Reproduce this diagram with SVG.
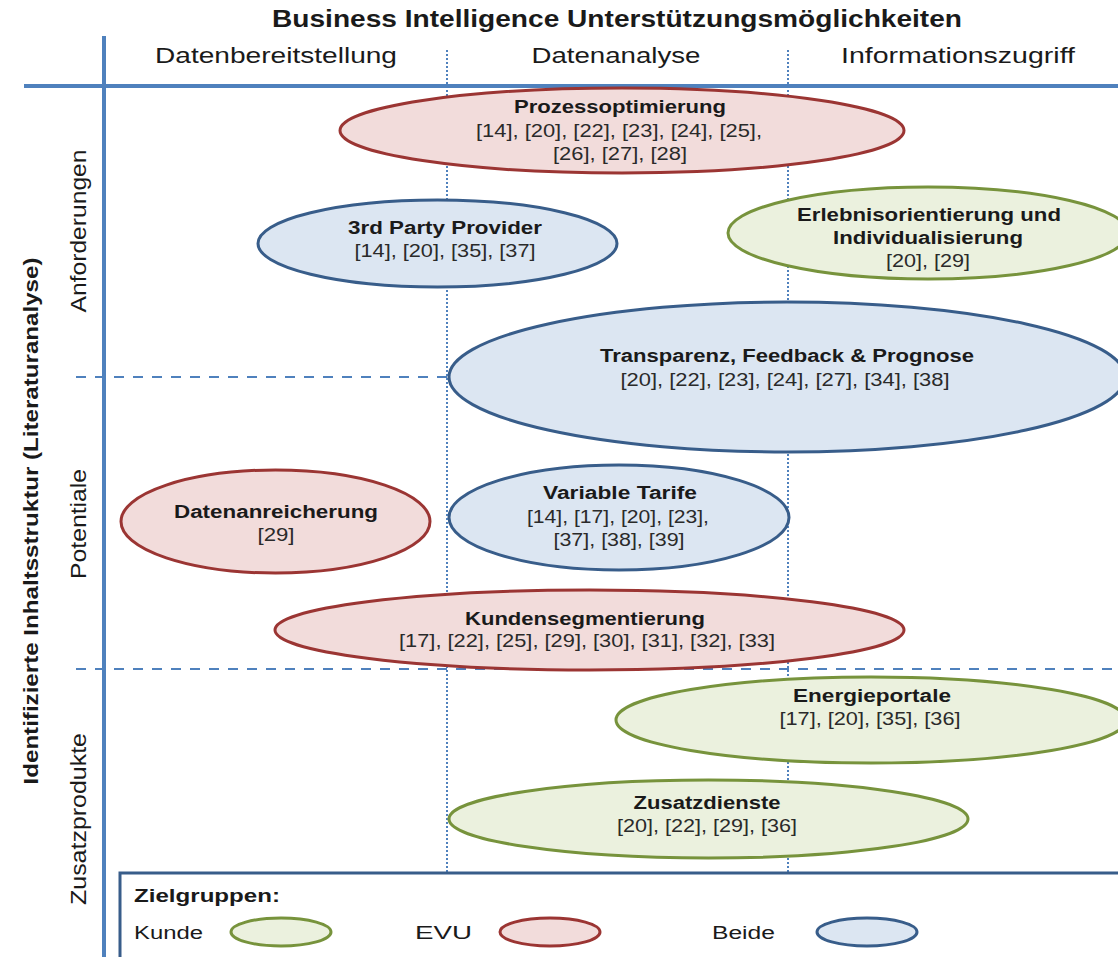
<svg xmlns="http://www.w3.org/2000/svg" width="1118" height="957" viewBox="0 0 1118 957">
<style>
text{font-family:"Liberation Sans",Arial,sans-serif;fill:#1a1a1a}
.t{font-size:18px;text-anchor:middle;font-weight:bold}
.r{font-size:18px;text-anchor:middle;fill:#2a2a2a}
.hd{font-size:22px;text-anchor:middle}
.axis{stroke:#4f81bd;stroke-width:4;fill:none}
.dot{stroke:#4f81bd;stroke-width:2;stroke-dasharray:2 2;fill:none}
.dash{stroke:#4f81bd;stroke-width:2;stroke-dasharray:10 9;fill:none}
.red{fill:#f2dcdb;stroke:#9b3533;stroke-width:3}
.blue{fill:#dce6f2;stroke:#385d8a;stroke-width:3}
.green{fill:#ebf1de;stroke:#77933c;stroke-width:3}
.lg{font-size:18px}
</style>
<rect width="1118" height="957" fill="#ffffff"/>
<g id="grid">
<line class="dot" x1="447" y1="50" x2="447" y2="872"/>
<line class="dot" x1="788" y1="50" x2="788" y2="872"/>
<line class="dash" x1="76" y1="377" x2="1118" y2="377"/>
<line class="dash" x1="76" y1="669" x2="1118" y2="669"/>
<line class="axis" x1="24" y1="86" x2="1118" y2="86"/>
<line class="axis" x1="104" y1="36" x2="104" y2="957"/>
</g>
<g id="headers">
<text x="617" y="27" font-size="23" font-weight="bold" text-anchor="middle" textLength="690" lengthAdjust="spacingAndGlyphs">Business Intelligence Unterstützungsmöglichkeiten</text>
<text class="hd" x="276" y="63" textLength="242" lengthAdjust="spacingAndGlyphs">Datenbereitstellung</text>
<text class="hd" x="616" y="63" textLength="169" lengthAdjust="spacingAndGlyphs">Datenanalyse</text>
<text class="hd" x="958" y="63" textLength="234" lengthAdjust="spacingAndGlyphs">Informationszugriff</text>
<text transform="translate(38,521) scale(1.22,1) rotate(-90)" font-size="17" font-weight="bold" text-anchor="middle" textLength="527" lengthAdjust="spacingAndGlyphs">Identifizierte Inhaltsstruktur (Literaturanalyse)</text>
<text transform="translate(86,231) scale(1.22,1) rotate(-90)" font-size="18" text-anchor="middle" textLength="163" lengthAdjust="spacingAndGlyphs">Anforderungen</text>
<text transform="translate(86,524) scale(1.22,1) rotate(-90)" font-size="18" text-anchor="middle" textLength="110" lengthAdjust="spacingAndGlyphs">Potentiale</text>
<text transform="translate(86,819) scale(1.22,1) rotate(-90)" font-size="18" text-anchor="middle" textLength="172" lengthAdjust="spacingAndGlyphs">Zusatzprodukte</text>
</g>
<g id="prozessoptimierung">
<ellipse class="red" cx="622" cy="130.5" rx="282" ry="42.5"/>
<text class="t" x="620" y="113" textLength="212" lengthAdjust="spacingAndGlyphs">Prozessoptimierung</text>
<text class="r" x="619" y="137" textLength="286" lengthAdjust="spacingAndGlyphs">[14], [20], [22], [23], [24], [25],</text>
<text class="r" x="620" y="160" textLength="134" lengthAdjust="spacingAndGlyphs">[26], [27], [28]</text>
</g>
<g id="third-party-provider">
<ellipse class="blue" cx="437.5" cy="243.5" rx="179.5" ry="43.5"/>
<text class="t" x="445" y="234" textLength="194" lengthAdjust="spacingAndGlyphs">3rd Party Provider</text>
<text class="r" x="445" y="257" textLength="181" lengthAdjust="spacingAndGlyphs">[14], [20], [35], [37]</text>
</g>
<g id="erlebnisorientierung">
<ellipse class="green" cx="928" cy="233" rx="200" ry="46"/>
<text class="t" x="929" y="221" textLength="264" lengthAdjust="spacingAndGlyphs">Erlebnisorientierung und</text>
<text class="t" x="928" y="244" textLength="190" lengthAdjust="spacingAndGlyphs">Individualisierung</text>
<text class="r" x="928" y="267" textLength="84" lengthAdjust="spacingAndGlyphs">[20], [29]</text>
</g>
<g id="transparenz">
<ellipse class="blue" cx="787" cy="377" rx="338" ry="75"/>
<text class="t" x="787" y="362" textLength="374" lengthAdjust="spacingAndGlyphs">Transparenz, Feedback &amp; Prognose</text>
<text class="r" x="785" y="386" textLength="329" lengthAdjust="spacingAndGlyphs">[20], [22], [23], [24], [27], [34], [38]</text>
</g>
<g id="datenanreicherung">
<ellipse class="red" cx="275.5" cy="521.5" rx="154.5" ry="51.5"/>
<text class="t" x="276" y="518" textLength="204" lengthAdjust="spacingAndGlyphs">Datenanreicherung</text>
<text class="r" x="276" y="541" textLength="37" lengthAdjust="spacingAndGlyphs">[29]</text>
</g>
<g id="variable-tarife">
<ellipse class="blue" cx="619" cy="517.5" rx="170" ry="52.5"/>
<text class="t" x="620" y="499" textLength="154" lengthAdjust="spacingAndGlyphs">Variable Tarife</text>
<text class="r" x="618" y="523" textLength="182" lengthAdjust="spacingAndGlyphs">[14], [17], [20], [23],</text>
<text class="r" x="619" y="546" textLength="131" lengthAdjust="spacingAndGlyphs">[37], [38], [39]</text>
</g>
<g id="kundensegmentierung">
<ellipse class="red" cx="589.5" cy="630" rx="314.5" ry="40"/>
<text class="t" x="585" y="625" textLength="240" lengthAdjust="spacingAndGlyphs">Kundensegmentierung</text>
<text class="r" x="587" y="647" textLength="376" lengthAdjust="spacingAndGlyphs">[17], [22], [25], [29], [30], [31], [32], [33]</text>
</g>
<g id="energieportale">
<ellipse class="green" cx="871" cy="720" rx="255" ry="43"/>
<text class="t" x="872" y="702" textLength="158" lengthAdjust="spacingAndGlyphs">Energieportale</text>
<text class="r" x="870" y="725" textLength="181" lengthAdjust="spacingAndGlyphs">[17], [20], [35], [36]</text>
</g>
<g id="zusatzdienste">
<ellipse class="green" cx="708.5" cy="819" rx="259.5" ry="39"/>
<text class="t" x="707" y="809" textLength="147" lengthAdjust="spacingAndGlyphs">Zusatzdienste</text>
<text class="r" x="707" y="832" textLength="180" lengthAdjust="spacingAndGlyphs">[20], [22], [29], [36]</text>
</g>
<g id="legend">
<rect x="120" y="873" width="1010" height="100" fill="#ffffff" stroke="#385d8a" stroke-width="3"/>
<text class="lg" x="134" y="902" font-weight="bold" textLength="146" lengthAdjust="spacingAndGlyphs">Zielgruppen:</text>
<text class="lg" x="134" y="939" textLength="69" lengthAdjust="spacingAndGlyphs">Kunde</text>
<ellipse class="green" cx="281" cy="932" rx="50" ry="14"/>
<text class="lg" x="415" y="939" textLength="57" lengthAdjust="spacingAndGlyphs">EVU</text>
<ellipse class="red" cx="550" cy="932" rx="50" ry="14"/>
<text class="lg" x="712" y="939" textLength="63" lengthAdjust="spacingAndGlyphs">Beide</text>
<ellipse class="blue" cx="867" cy="932" rx="50" ry="14"/>
</g>
</svg>
